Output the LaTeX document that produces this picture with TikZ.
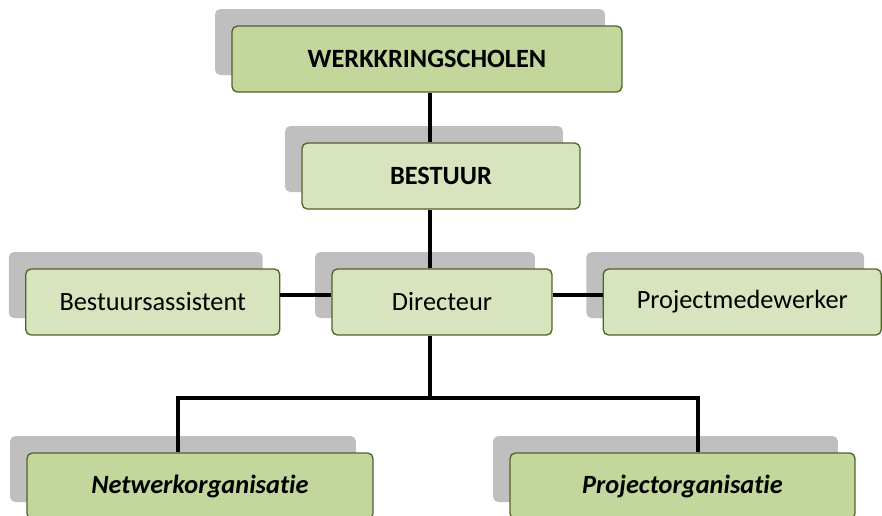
\documentclass[tikz,border=0pt]{standalone}
\usepackage{fontspec}
\setmainfont[Ligatures=NoCommon]{Carlito}
\usetikzlibrary{positioning,shadows}

\definecolor{boxdark}{HTML}{C3D69B}
\definecolor{boxlight}{HTML}{D7E4BD}
\definecolor{boxline}{HTML}{4F6228}
\definecolor{shadowgray}{HTML}{BFBFBF}

\tikzset{
  orgbox/.style={draw=boxline, line width=0.75pt, rounded corners=3pt,
    minimum height=1.32cm, inner sep=2pt, font=\fontsize{15}{18}\selectfont,
    general shadow={fill=shadowgray, shadow xshift=-0.34cm, shadow yshift=0.34cm}},
  darkbox/.style={orgbox, fill=boxdark},
  lightbox/.style={orgbox, fill=boxlight},
  link/.style={line width=2.3pt}
}

\begin{document}
\begin{tikzpicture}[x=0.02cm, y=-0.02cm]
	\useasboundingbox (0,0) rectangle (882,515);

	\node[darkbox, minimum width=7.8cm] (werk) at (427,59) {\textbf{WERKKRINGSCHOLEN}};
	\node[lightbox, minimum width=5.56cm] (bestuur) at (441,176) {\textbf{BESTUUR}};
	\node[lightbox, minimum width=4.4cm] (dir) at (442,302) {Directeur};
	\node[lightbox, minimum width=5.08cm, left=1.02cm of dir] (assist) {Bestuursassistent};
	\node[lightbox, minimum width=5.56cm, right=1cm of dir] (medew) {Projectmedewerker};
	\node[darkbox, minimum width=6.92cm] (netwerk) at (200,486) {\textbf{\itshape Netwerkorganisatie}};
	\node[darkbox, minimum width=6.9cm] (project) at (682.5,486) {\textbf{\itshape Projectorganisatie}};

	\coordinate (spine) at (430,0);
	\coordinate (row) at (0,295);
	\coordinate (legL) at (178,398);
	\coordinate (legR) at (698,398);

	\draw[link] (werk.south -| spine) -- (bestuur.north -| spine);
	\draw[link] (bestuur.south -| spine) -- (dir.north -| spine);
	\draw[link] (assist.east |- row) -- (dir.west |- row);
	\draw[link] (dir.east |- row) -- (medew.west |- row);
	\draw[link] (dir.south -| spine) -- (spine |- legL);
	\draw[link] (netwerk.north -| legL) -- (legL) -- (legR) -- (project.north -| legR);

\end{tikzpicture}
\end{document}
